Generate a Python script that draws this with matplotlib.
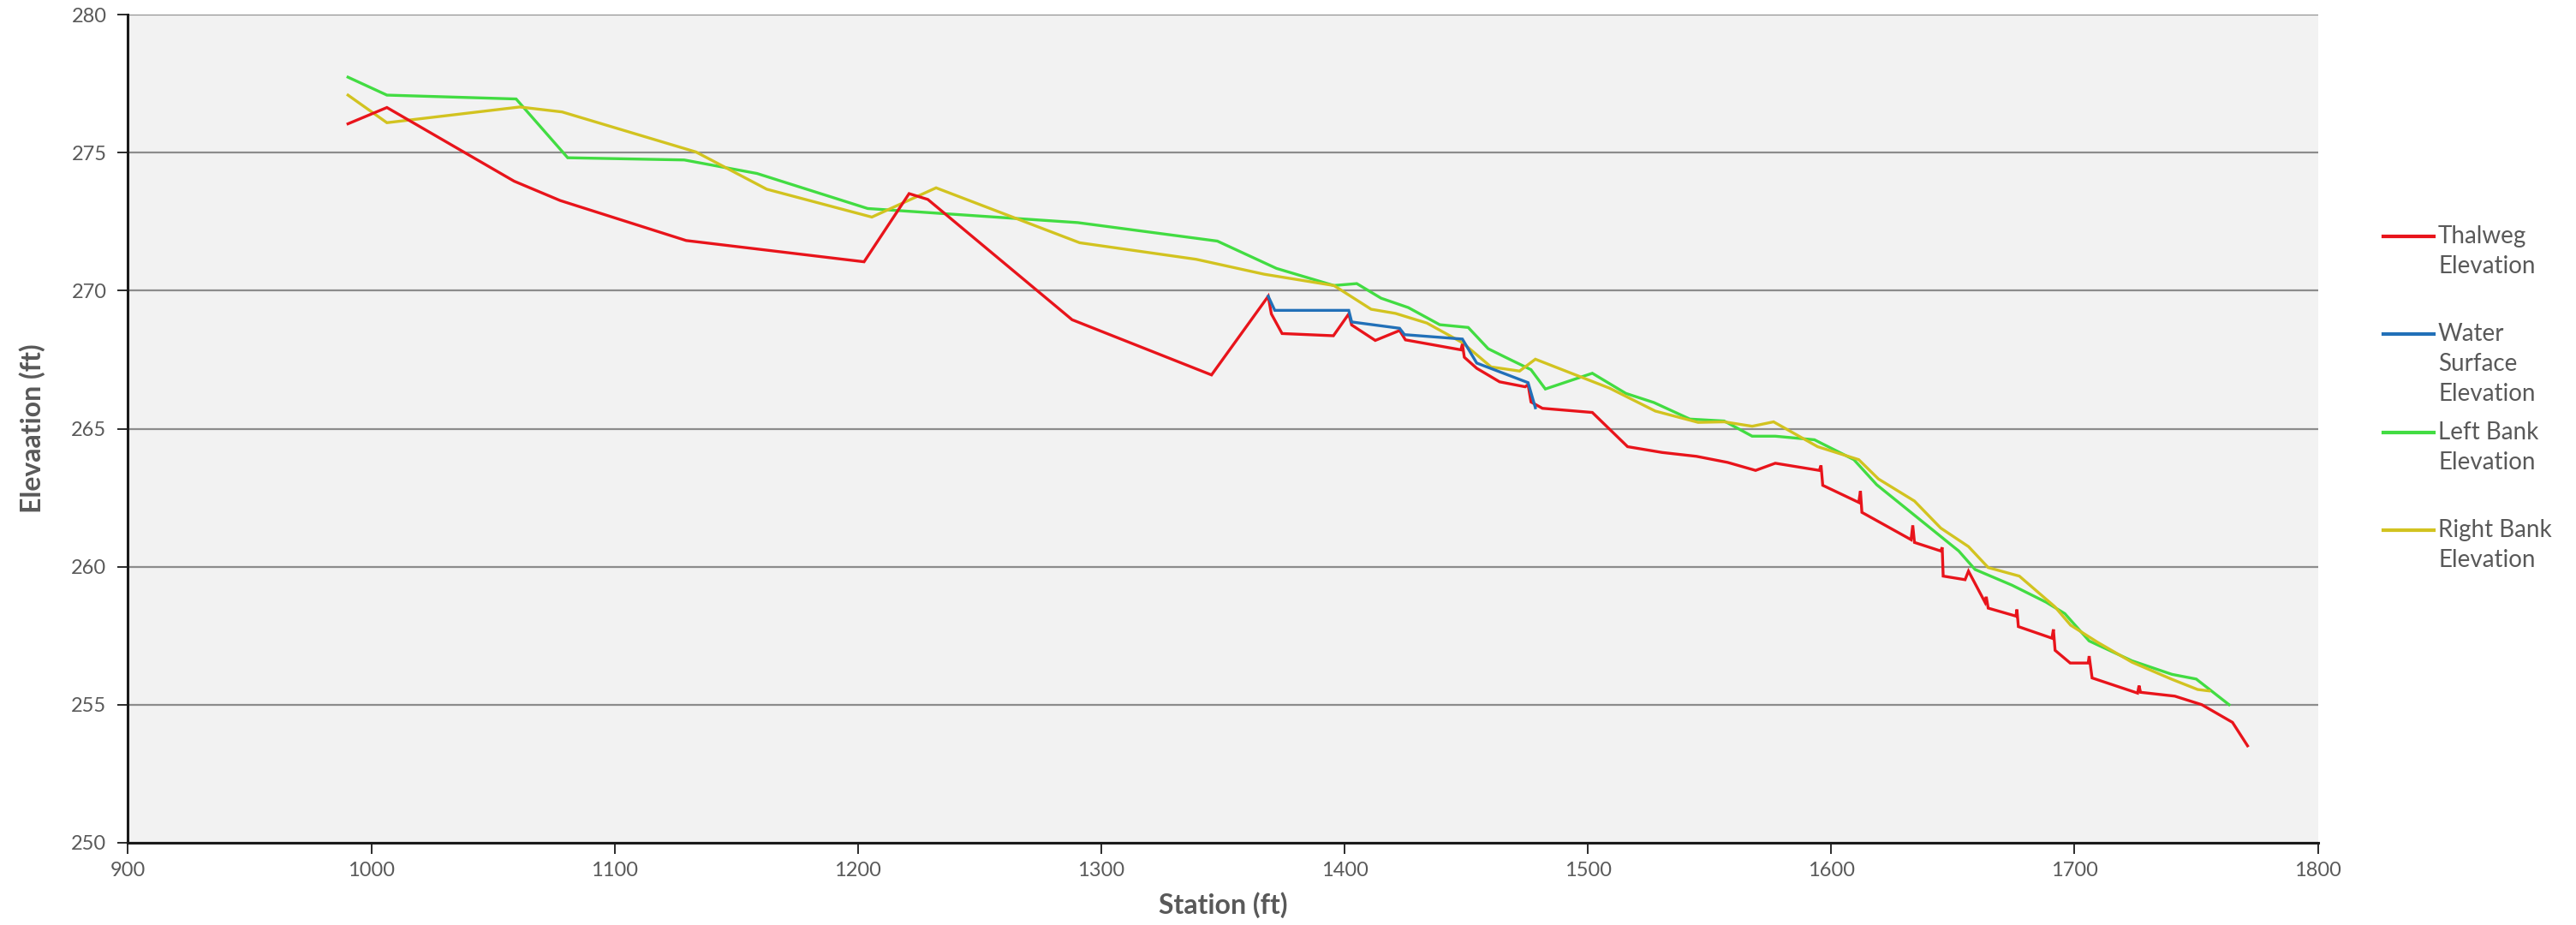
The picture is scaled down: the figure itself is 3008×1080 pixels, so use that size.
import matplotlib
matplotlib.use("Agg")
import matplotlib.pyplot as plt
from matplotlib.lines import Line2D

# ---------------- data ----------------
thalweg_sta = [990.4, 1006.4, 1058.7, 1077.6, 1129.4, 1202.5, 1221.0, 1228.7, 1288.0, 1345.3,
               1368.6, 1369.9, 1374.3, 1395.4, 1401.7, 1402.9, 1412.6, 1422.6, 1425.0, 1447.8,
               1448.4, 1449.2, 1454.3, 1463.7, 1474.2, 1475.4, 1476.6, 1481.3, 1501.8, 1516.3,
               1530.5, 1544.6, 1557.4, 1568.9, 1577.0, 1595.1, 1595.8, 1596.5, 1611.3, 1612.0,
               1612.6, 1632.8, 1633.5, 1634.2, 1645.0, 1645.6, 1646.0, 1655.0, 1656.4, 1663.2,
               1663.7, 1664.5, 1675.9, 1676.3, 1676.9, 1690.7, 1691.3, 1692.0, 1698.2, 1705.6,
               1706.0, 1707.2, 1725.9, 1726.5, 1727.1, 1741.2, 1752.3, 1764.9, 1771.1]
thalweg_elev = [276.05, 276.64, 273.97, 273.27, 271.82, 271.05, 273.52, 273.31, 268.95, 266.95,
                269.80, 269.16, 268.45, 268.37, 269.16, 268.76, 268.20, 268.56, 268.22, 267.86,
                268.07, 267.59, 267.19, 266.70, 266.52, 266.60, 265.97, 265.74, 265.59, 264.35,
                264.14, 264.00, 263.78, 263.49, 263.75, 263.49, 263.67, 262.95, 262.33, 262.74,
                261.97, 260.98, 261.50, 260.88, 260.57, 260.70, 259.66, 259.53, 259.84, 258.71,
                258.91, 258.50, 258.21, 258.45, 257.83, 257.41, 257.73, 256.97, 256.51, 256.51,
                256.76, 255.97, 255.42, 255.69, 255.45, 255.31, 255.00, 254.36, 253.51]

water_sta = [1368.6, 1371.3, 1401.7, 1402.9, 1422.6, 1424.6, 1448.4, 1454.3, 1475.4, 1478.4]
water_elev = [269.80, 269.29, 269.29, 268.87, 268.64, 268.41, 268.25, 267.38, 266.67, 265.76]

left_sta = [990.4, 1006.4, 1059.5, 1080.7, 1128.6, 1158.5, 1204.0, 1290.3, 1347.7, 1372.0,
            1395.6, 1405.0, 1415.0, 1426.2, 1439.1, 1450.8, 1459.0, 1466.1, 1476.6, 1482.5,
            1501.8, 1515.6, 1527.1, 1541.9, 1556.0, 1567.5, 1577.0, 1593.1, 1609.3, 1618.7,
            1652.4, 1659.1, 1674.3, 1688.4, 1696.0, 1706.0, 1723.6, 1740.0, 1750.0, 1763.5]
left_elev = [277.74, 277.09, 276.95, 274.82, 274.74, 274.25, 272.98, 272.47, 271.80, 270.81,
             270.19, 270.26, 269.73, 269.39, 268.77, 268.67, 267.90, 267.59, 267.14, 266.44,
             267.01, 266.28, 265.95, 265.35, 265.28, 264.73, 264.73, 264.60, 263.88, 262.97,
             260.57, 259.90, 259.33, 258.71, 258.30, 257.31, 256.59, 256.10, 255.93, 255.00]

right_sta = [990.4, 1006.4, 1061.0, 1078.4, 1133.4, 1162.5, 1205.7, 1232.1, 1291.1, 1339.0,
             1366.9, 1395.6, 1410.9, 1420.9, 1433.8, 1448.4, 1460.2, 1471.9, 1478.4, 1508.9,
             1527.7, 1545.3, 1556.0, 1567.5, 1576.3, 1594.4, 1611.3, 1619.4, 1634.2, 1645.0,
             1656.4, 1664.5, 1677.3, 1691.9, 1698.4, 1709.5, 1723.6, 1740.0, 1750.6, 1755.3]
right_elev = [277.09, 276.09, 276.66, 276.48, 275.03, 273.68, 272.67, 273.73, 271.74, 271.14,
              270.60, 270.19, 269.33, 269.18, 268.83, 268.12, 267.24, 267.09, 267.52, 266.47,
              265.64, 265.23, 265.25, 265.09, 265.25, 264.35, 263.88, 263.18, 262.38, 261.40,
              260.73, 259.97, 259.66, 258.55, 257.88, 257.26, 256.54, 255.92, 255.55, 255.50]

series_labels = ["Thalweg\nElevation", "Water\nSurface\nElevation", "Left Bank\nElevation", "Right Bank\nElevation"]
x_ticks = [900, 1000, 1100, 1200, 1300, 1400, 1500, 1600, 1700, 1800]
y_ticks = [250, 255, 260, 265, 270, 275, 280]

# ---------------- style ----------------
colors = ["#E8141B", "#2270B8", "#42DC42", "#D2C320"]
lw = 2.4
txt_gray = "#595959"

fig = plt.figure(figsize=(30.08, 10.8), dpi=100)
fig.patch.set_facecolor("white")
ax = fig.add_axes([0.0497, 0.0890, 0.8501, 0.8950])
ax.set_facecolor("#F2F2F2")

series = [(thalweg_sta, thalweg_elev), (water_sta, water_elev),
          (left_sta, left_elev), (right_sta, right_elev)]
zo = {0: 4, 1: 5, 2: 2, 3: 3}
for i in [2, 3, 0, 1]:
    xs, ys = series[i]
    ax.plot(xs, ys, color=colors[i], lw=lw, zorder=zo[i], solid_joinstyle="miter")

ax.set_xlim(900, 1800)
ax.set_ylim(250, 280)
ax.set_xticks(x_ticks)
ax.set_yticks(y_ticks)
ax.yaxis.grid(True, color="#8C8C8C", lw=1.6, zorder=1)
ax.set_axisbelow(True)
for s in ["top", "right"]:
    ax.spines[s].set_visible(False)
for s in ["left", "bottom"]:
    ax.spines[s].set_color("#1A1A1A")
    ax.spines[s].set_linewidth(2.2)
ax.tick_params(axis="both", direction="out", length=9, width=1.3, color="#1A1A1A",
               labelcolor=txt_gray, labelsize=17)
ax.tick_params(axis="x", pad=7)
ax.tick_params(axis="y", pad=9)
for lab in ax.get_xticklabels() + ax.get_yticklabels():
    lab.set_family("Lato")

ax.set_xlabel("Station (ft)", fontsize=23, fontweight="bold", color=txt_gray,
              family="Lato", labelpad=10)
ax.set_ylabel("Elevaation (ft)", fontsize=23, fontweight="bold", color=txt_gray,
              family="Lato", labelpad=22)

# ---------------- legend (drawn manually to mimic first-line alignment) ----------------
W, H = 3008.0, 1080.0
legend_y = [276, 390, 505, 619]
for i, (lab, y) in enumerate(zip(series_labels, legend_y)):
    yf = 1 - y / H
    fig.add_artist(Line2D([2783 / W, 2842 / W], [yf, yf], color=colors[i], lw=3.0,
                          transform=fig.transFigure))
    fig.text(2847 / W, 1 - (y - 13) / H, lab, ha="left", va="top", fontsize=20,
             color=txt_gray, family="Lato", linespacing=1.42)

fig.savefig("out.png", dpi=100, facecolor="white")
